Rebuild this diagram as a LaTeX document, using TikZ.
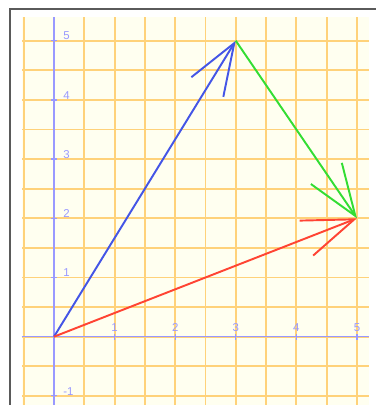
\documentclass[tikz,border=0pt]{standalone}
\usepackage{fontspec}
\setsansfont{Liberation Sans}
\usetikzlibrary{arrows.meta}
\definecolor{cblue}{HTML}{4455E6}
\definecolor{cgreen}{HTML}{33DD33}
\definecolor{cred}{HTML}{FF4433}
\definecolor{caxis}{HTML}{9999FF}
\definecolor{cgrid}{HTML}{FFD27A}
\definecolor{cpaper}{HTML}{FFFFF0}
\definecolor{cframe}{HTML}{5A5A5A}
\tikzset{
  every picture/.style={font=\sffamily},
  gridline/.style={draw=cgrid, line width=1.1pt},
  axis/.style={draw=caxis, line width=0.9pt},
  tickmark/.style={draw=caxis, line width=0.7pt},
  ticklabel/.style={text=caxis, font=\sffamily\fontsize{6.5}{8}\selectfont, inner sep=0pt},
  vec/.style={draw=#1, line width=1.1pt, -{Straight Barb[length=1.03cm, width=0.75cm]}},
}

\begin{document}
\begin{tikzpicture}[x=1.212cm, y=1.184cm]
  \useasboundingbox (-0.891,-1.154) rectangle (5.314,5.688);
  \fill[white] (-0.891,-1.154) rectangle (5.314,5.688);
  % paper and frame
  \draw[cframe, line width=0.8pt] (-0.726,-1.154) |- (5.314,5.536);
  \fill[cpaper] (-0.528,-1.154) rectangle (5.198,5.4);
  \foreach \gx in {-0.5,0,...,5} \draw[gridline] (\gx,-1.154) -- (\gx,5.4);
  \foreach \gy in {-1,-0.5,...,5} \draw[gridline] (-0.528,\gy) -- (5.198,\gy);
  % axes
  \draw[axis] (-0.528,0) -- (5.198,0);
  \draw[axis] (0,-1.154) -- (0,5.4);
  \foreach \k in {1,...,5} {
    \draw[tickmark] (\k,-0.05) -- (\k,0.05);
    \node[ticklabel] (xl\k) at (\k,0.15) {\k};
  }
  \foreach \k in {-1,1,2,3,4,5} {
    \draw[tickmark] (-0.05,\k) -- (0.05,\k);
    \node[ticklabel, anchor=west] (yl\k) at (0.15,\k+0.08) {\k};
  }
  % vectors
  \coordinate (O) at (0,0);
  \coordinate (A) at (3,5);
  \coordinate (B) at (5,2);
  \draw[vec=cblue] (O) -- (A);
  \draw[vec=cgreen] (A) -- (B);
  \draw[vec=cred] (O) -- (B);
\end{tikzpicture}
\end{document}
